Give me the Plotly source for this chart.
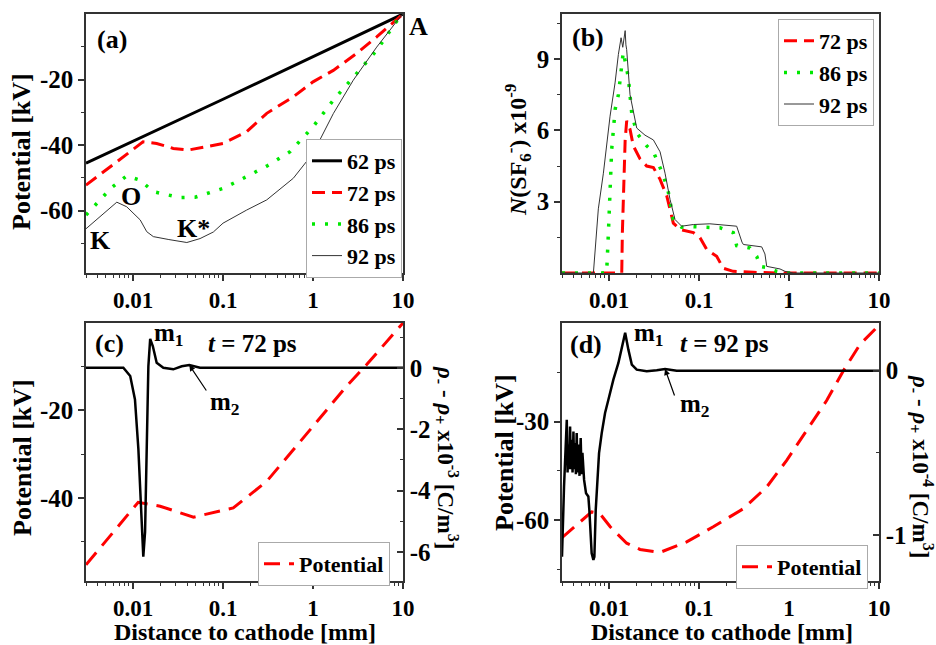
import numpy as np
import plotly.graph_objects as go

W, H = 936, 645
FONT = "Liberation Serif"

# ---------------- data ----------------
# (a) potential profiles [kV] vs distance to cathode [mm]
a_x62 = [0.003, 0.1, 10]
a_y62 = [-45.5, -26.0, 0]
a_x72 = [0.003, 0.006, 0.0129, 0.0183, 0.028, 0.041, 0.066, 0.1, 0.183, 0.306, 0.6, 1.0, 1.68, 3.03, 5.1, 8.4, 10]
a_y72 = [-52.2, -45.9, -39.0, -39.5, -41.0, -41.5, -40.5, -39.5, -35.9, -30.3, -25.3, -20.7, -17.2, -12.1, -7.0, -1.8, 0]
a_x86 = [0.003, 0.0041, 0.0058, 0.0085, 0.012, 0.0168, 0.0237, 0.0333, 0.0489, 0.0718, 0.1, 0.183, 0.306, 0.555, 1.0, 1.68, 2.8, 5.1, 8.4, 10]
a_y86 = [-61.3, -57.3, -52.9, -49.4, -50.7, -54.2, -55.2, -56.0, -55.9, -54.5, -53.2, -49.6, -46.4, -42.0, -34.4, -26.3, -19.2, -11.1, -2.4, 0]
a_x92 = [0.003, 0.0043, 0.0066, 0.0085, 0.0101, 0.012, 0.0142, 0.0168, 0.025, 0.0396, 0.0555, 0.078, 0.1, 0.183, 0.306, 0.604, 1.0, 1.2, 1.68, 2.8, 5.1, 9.3, 10]
a_y92 = [-65.5, -61.8, -57.4, -58.8, -60.8, -62.8, -66.4, -67.9, -68.8, -69.7, -68.5, -66.5, -63.8, -59.8, -56.7, -50.1, -42.5, -38.3, -30.4, -20.2, -10.1, -0.9, 0]

# (b) N(SF6-) x1e-9
b_x72 = [0.003, 0.01384, 0.01406, 0.0147, 0.0151, 0.0157, 0.0171, 0.0186, 0.0221, 0.0262, 0.0311, 0.0369, 0.0438, 0.0518, 0.0615, 0.0865, 0.1026, 0.1216, 0.157, 0.186, 0.24, 0.402, 0.73, 10]
b_y72 = [0, 0, 1.7, 4.5, 5.6, 6.4, 6.05, 5.35, 4.8, 4.5, 4.44, 3.94, 3.24, 2.1, 1.83, 1.7, 1.48, 0.99, 0.7, 0.2, 0.07, 0.03, 0, 0]
b_x86 = [0.003, 0.0094, 0.00984, 0.0107, 0.0117, 0.0127, 0.0138, 0.0144, 0.0157, 0.0164, 0.0179, 0.0203, 0.0262, 0.0311, 0.0402, 0.0456, 0.0518, 0.0641, 0.0865, 0.171, 0.24, 0.262, 0.369, 0.438, 0.477, 0.615, 0.73, 0.903, 10]
b_y86 = [0, 0, 1.7, 5.2, 6.9, 7.5, 8.7, 9.3, 8.6, 8.2, 6.7, 5.9, 5.35, 5.1, 4.1, 3.4, 2.25, 1.93, 1.95, 1.9, 1.7, 1.15, 1.05, 0.7, 0.28, 0.2, 0.07, 0, 0]
b_x92 = [0.003, 0.0067, 0.0076, 0.00865, 0.01026, 0.01166, 0.0127, 0.0133, 0.0136, 0.0142, 0.0147, 0.0151, 0.0154, 0.0157, 0.0171, 0.0186, 0.0203, 0.0251, 0.0311, 0.0369, 0.0419, 0.0476, 0.0541, 0.0641, 0.0865, 0.132, 0.262, 0.30, 0.311, 0.497, 0.54, 0.565, 0.794, 0.903, 1.12, 10]
b_y92 = [0, 0, 2.7, 4.2, 6.6, 8.0, 9.2, 9.7, 9.9, 9.5, 10.0, 10.2, 9.6, 9.4, 7.5, 6.8, 6.1, 5.8, 5.6, 5.1, 4.2, 3.1, 2.25, 1.97, 2.04, 2.07, 1.97, 1.3, 1.2, 1.1, 0.8, 0.28, 0.17, 0.07, 0, 0]

# (c) t = 72 ps: potential [kV] and rho- - rho+ [x1e-3 C/m3]
c_xpot = [0.003, 0.0114, 0.02, 0.047, 0.13, 0.306, 0.604, 1.2, 2.37, 3.95, 10]
c_ypot = [-55.3, -41.0, -41.9, -44.4, -42.3, -36.2, -29.0, -21.7, -14.4, -9.5, 0]
c_xrho = [0.003, 0.0078, 0.0093, 0.0105, 0.01146, 0.01248, 0.0130, 0.0136, 0.0142, 0.0148, 0.0155, 0.0166, 0.0183, 0.0217, 0.028, 0.0348, 0.0422, 0.0555, 10]
c_yrho = [0, 0, -0.27, -1.03, -2.65, -4.81, -6.16, -5.35, -2.1, 0.05, 0.94, 0.70, 0.16, 0, -0.05, 0.05, 0.09, 0, 0]

# (d) t = 92 ps: potential [kV] and rho- - rho+ [x1e-4 C/m3]
d_xpot = [0.003, 0.00476, 0.0064, 0.0079, 0.0103, 0.0157, 0.0221, 0.0369, 0.073, 0.144, 0.311, 0.565, 0.942, 1.57, 2.62, 4.02, 6.15, 9.03, 10]
d_ypot = [-65.3, -60.5, -57.5, -58.0, -62.0, -67.0, -68.9, -69.8, -66.6, -62.0, -56.5, -49.9, -41.8, -32.7, -23.6, -14.5, -6.5, -1.9, -0.5]
d_xrho = [0.0030, 0.00316, 0.00339, 0.00346, 0.00353, 0.00361, 0.00369, 0.00377, 0.00385, 0.00393,
          0.00402, 0.0041, 0.00419, 0.00428, 0.00437, 0.00446, 0.00456, 0.0047, 0.00484, 0.00495,
          0.00506, 0.00528, 0.00555, 0.00589, 0.00604, 0.00625, 0.00641, 0.0067, 0.00687, 0.00711,
          0.00729, 0.00774, 0.00829, 0.00903, 0.00983, 0.01117, 0.0127, 0.0138, 0.0151, 0.0164,
          0.0179, 0.0203, 0.0262, 0.0339, 0.0419, 0.0565, 10]
d_yrho = [-1.132, -0.705, -0.299, -0.62, -0.45, -0.60, -0.34, -0.60, -0.42, -0.62,
          -0.370, -0.60, -0.44, -0.63, -0.380, -0.62, -0.45, -0.64, -0.410, -0.63,
          -0.50, -0.665, -0.746, -0.766, -0.848, -1.030, -1.112, -1.152, -1.132, -0.848,
          -0.726, -0.502, -0.380, -0.258, -0.177, -0.055, 0.047, 0.128, 0.23, 0.128,
          0.037, 0.006, -0.004, 0.002, 0.01, 0, 0]

x_tickvals = [0.01, 0.1, 1, 10]
x_ticktext = ["0.01", "0.1", "1", "10"]

# ---------------- figure ----------------
RED = "#ff0000"
GREEN = "#00e800"
AX = "#333333"


def X(v):
    return v / W


def Y(v):
    return 1 - v / H


fig = go.Figure()

# (a)
fig.add_trace(go.Scatter(x=a_x62, y=a_y62, mode="lines", name="62 ps", line=dict(color="black", width=3),
                         xaxis="x", yaxis="y", legend="legend"))
fig.add_trace(go.Scatter(x=a_x72, y=a_y72, mode="lines", name="72 ps", line=dict(color=RED, width=3, dash="13px,7px"),
                         xaxis="x", yaxis="y", legend="legend"))
fig.add_trace(go.Scatter(x=a_x86, y=a_y86, mode="lines", name="86 ps", line=dict(color=GREEN, width=3.5, dash="3px,10px"),
                         xaxis="x", yaxis="y", legend="legend"))
fig.add_trace(go.Scatter(x=a_x92, y=a_y92, mode="lines", name="92 ps", line=dict(color="#333333", width=1),
                         xaxis="x", yaxis="y", legend="legend"))
# (b)
fig.add_trace(go.Scatter(x=b_x72, y=b_y72, mode="lines", name="72 ps", line=dict(color=RED, width=3, dash="13px,7px"),
                         xaxis="x2", yaxis="y2", legend="legend2"))
fig.add_trace(go.Scatter(x=b_x86, y=b_y86, mode="lines", name="86 ps", line=dict(color=GREEN, width=3.5, dash="3px,10px"),
                         xaxis="x2", yaxis="y2", legend="legend2"))
fig.add_trace(go.Scatter(x=b_x92, y=b_y92, mode="lines", name="92 ps", line=dict(color="#333333", width=1),
                         xaxis="x2", yaxis="y2", legend="legend2"))
# (c)
fig.add_trace(go.Scatter(x=c_xpot, y=c_ypot, mode="lines", name="Potential", line=dict(color=RED, width=3, dash="16px,9px"),
                         xaxis="x3", yaxis="y3", legend="legend3"))
fig.add_trace(go.Scatter(x=c_xrho, y=c_yrho, mode="lines", showlegend=False, line=dict(color="black", width=2.5),
                         xaxis="x3", yaxis="y4"))
# (d)
fig.add_trace(go.Scatter(x=d_xpot, y=d_ypot, mode="lines", name="Potential", line=dict(color=RED, width=3, dash="16px,9px"),
                         xaxis="x4", yaxis="y5", legend="legend4"))
fig.add_trace(go.Scatter(x=d_xrho, y=d_yrho, mode="lines", showlegend=False, line=dict(color="black", width=2.5),
                         xaxis="x4", yaxis="y6"))

tickfont = dict(family=FONT, size=25, color="black", weight="bold")
xtickfont = dict(family=FONT, size=23, color="black", weight="bold")
minor_x = [k * 10.0 ** e for e in range(-3, 1) for k in range(2, 10) if 0.003 <= k * 10.0 ** e <= 10]


def xax(dom, anchor):
    return dict(domain=dom, anchor=anchor, type="log", range=[np.log10(0.003), 1],
                tickvals=x_tickvals, ticktext=x_ticktext, ticks="outside", ticklen=6, tickwidth=1.5,
                tickcolor=AX, showline=True, linecolor=AX, linewidth=1.5, mirror=True,
                showgrid=False, zeroline=False, tickfont=xtickfont, automargin=False,
                minor=dict(tickvals=minor_x, ticks="outside", ticklen=3, tickwidth=1, tickcolor=AX, showgrid=False))


def yax(dom, anchor, rng, tv, mv, side="left", overlaying=None, ticks="outside"):
    d = dict(domain=dom, anchor=anchor, range=rng, tickvals=tv, ticktext=[f"{v:g}" for v in tv],
             ticks=ticks, ticklen=6, tickwidth=1.5, tickcolor=AX, showline=True, linecolor=AX,
             linewidth=1.5, showgrid=False, zeroline=False, tickfont=tickfont, side=side, automargin=False,
             minor=dict(tickvals=mv, ticks=ticks, ticklen=3, tickwidth=1, tickcolor=AX, showgrid=False))
    if overlaying:
        d["overlaying"] = overlaying
    else:
        d["mirror"] = True
    return d


xa = [X(86), X(403)]
xb = [X(562), X(879)]
ytop = [Y(273), Y(14)]
ybot = [Y(581), Y(323)]

leg_common = dict(font=dict(family=FONT, size=22, color="black", weight="bold"), bgcolor="white",
                  bordercolor="#aaaaaa", borderwidth=1, xanchor="left", yanchor="top", itemwidth=30,
                  tracegroupgap=0)

fig.update_layout(
    width=W, height=H, margin=dict(l=0, r=0, t=0, b=0),
    paper_bgcolor="white", plot_bgcolor="white",
    font=dict(family=FONT, size=24, color="black", weight="bold"),
    xaxis=xax(xa, "y"),
    yaxis=yax(ytop, "x", [-79, 0], [-60, -40, -20], [-70, -50, -30, -10]),
    xaxis2=xax(xb, "y2"),
    yaxis2=yax(ytop, "x2", [0, 10.9], [3, 6, 9], [1.5, 4.5, 7.5, 10.5]),
    xaxis3=xax(xa, "y3"),
    yaxis3=yax(ybot, "x3", [-59, 0], [-40, -20], [-50, -30, -10]),
    yaxis4=yax(ybot, "x3", [-6.95, 1.46], [-6, -4, -2, 0], [-5, -3, -1, 1], side="right", overlaying="y3", ticks="inside"),
    xaxis4=xax(xb, "y5"),
    yaxis5=yax(ybot, "x4", [-78.5, 0], [-60, -30], [-75, -45, -15]),
    yaxis6=yax(ybot, "x4", [-1.28, 0.29], [-1, 0], [-0.5], side="right", overlaying="y5", ticks="inside"),
    legend=dict(x=X(306), y=Y(139), **leg_common),
    legend2=dict(x=X(778), y=Y(19), **leg_common),
    legend3=dict(x=X(258), y=Y(542), **leg_common),
    legend4=dict(x=X(736), y=Y(545), **leg_common),
)

bold = dict(family=FONT, color="black", weight="bold")


def txt(x, y, s, size=26, angle=0):
    return dict(x=X(x), y=Y(y), xref="paper", yref="paper", text=s, showarrow=False,
                font=dict(size=size, **bold), textangle=angle, xanchor="center", yanchor="middle")


ann = [
    txt(112, 39, "(a)"), txt(418, 27, "A"), txt(131, 196, "O"), txt(100, 240, "K"), txt(193, 228, "K*"),
    txt(21, 152, "Potential [kV]", 26, -90),
    txt(588, 37, "(b)"),
    txt(518, 150, "<i>N</i>(SF<sub>6</sub><sup>-</sup>) x10<sup>-9</sup>", 24, -90),
    txt(109, 343, "(c)"), txt(169, 334, "m<sub>1</sub>", 25), txt(253, 343, "<i>t</i> = 72 ps", 25),
    txt(225, 403, "m<sub>2</sub>", 25),
    txt(22, 458, "Potential [kV]", 26, -90),
    txt(446, 457, "<i>ρ</i><sub>-</sub> - <i>ρ</i><sub>+</sub> x10<sup>-3</sup> [C/m<sup>3</sup>]", 23, 90),
    txt(245, 632, "Distance to cathode [mm]", 24),
    txt(586, 345, "(d)"), txt(649, 334, "m<sub>1</sub>", 25), txt(724, 343, "<i>t</i> = 92 ps", 25),
    txt(695, 405, "m<sub>2</sub>", 25),
    txt(504, 453, "Potential [kV]", 26, -90),
    txt(922, 466, "<i>ρ</i><sub>-</sub> - <i>ρ</i><sub>+</sub> x10<sup>-4</sup> [C/m<sup>3</sup>]", 23, 90),
    txt(722, 632, "Distance to cathode [mm]", 24),
]
# arrows pointing to the m2 bumps
ann.append(dict(x=np.log10(0.0422), y=0.09, xref="x3", yref="y4", ax=18, ay=27, axref="pixel", ayref="pixel",
                text="", showarrow=True, arrowhead=2, arrowsize=1, arrowwidth=1.2, arrowcolor="black"))
ann.append(dict(x=np.log10(0.0419), y=0.01, xref="x4", yref="y6", ax=10, ay=28, axref="pixel", ayref="pixel",
                text="", showarrow=True, arrowhead=2, arrowsize=1, arrowwidth=1.2, arrowcolor="black"))
fig.update_layout(annotations=ann)

fig.write_html("out.html", config={"displayModeBar": False},
               post_script="document.body.style.margin='0';document.body.style.overflow='hidden';")
